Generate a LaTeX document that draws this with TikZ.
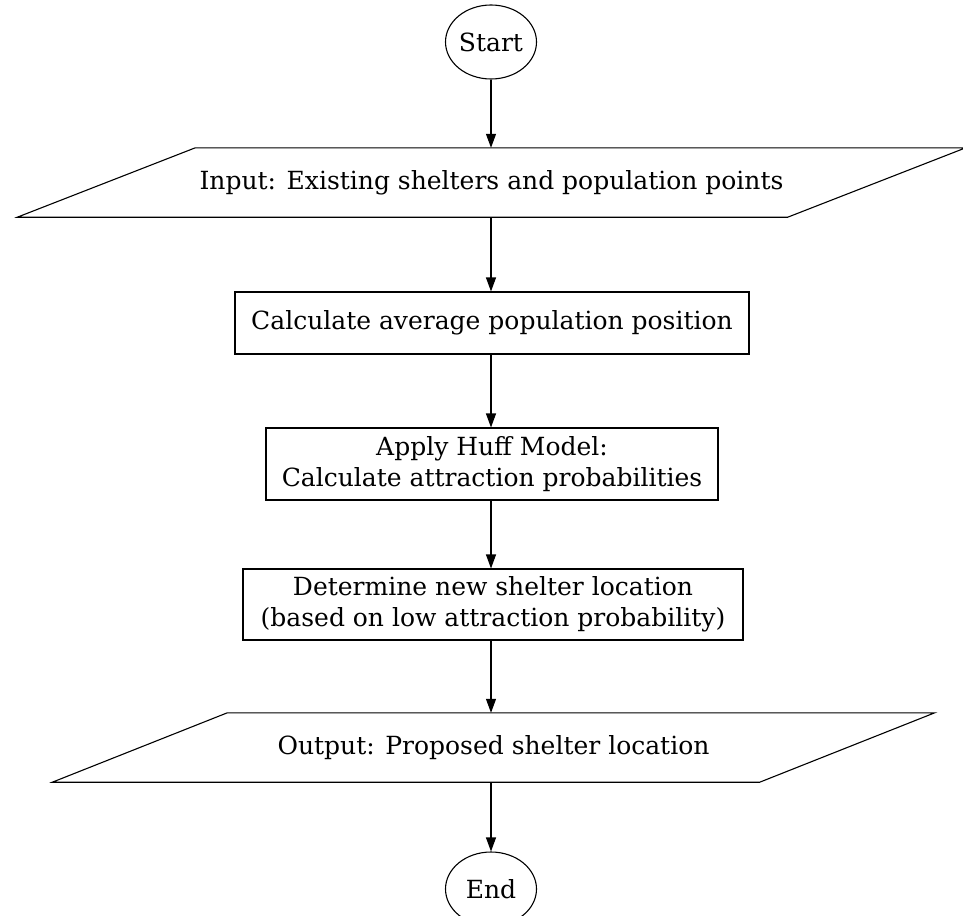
\documentclass[tikz,border=0pt]{standalone}
\usepackage{fontspec}
\setmainfont{DejaVu Serif}
\usetikzlibrary{arrows.meta,shapes.geometric}

\begin{document}
\begin{tikzpicture}[x=1pt,y=-1pt,
    every node/.append style={font=\fontsize{25}{31}\selectfont},
    term/.style={draw,ellipse,line width=1.1pt,minimum width=91pt,minimum height=74pt,inner sep=0pt},
    proc/.style={draw,rectangle,line width=1.1pt,align=center,inner sep=0pt},
    io/.style={rectangle,align=center,minimum height=69pt,inner sep=0pt},
    iolines/.style={line width=1.1pt,line join=miter},
    flow/.style={-{Triangle[length=14pt,width=10pt]},line width=1.1pt}]
  \useasboundingbox (0,0) rectangle (963,915);

  \draw (491,42) node[term] (start) {Start};
  \draw (491.5,182.5) node[io,minimum width=770pt] (input) {Input: Existing shelters and population points};
  \draw[iolines] ([xshift=89pt]input.north west) -- ([xshift=89pt]input.north east)
     -- ([xshift=-89pt]input.south east) -- ([xshift=-89pt]input.south west) -- cycle;
  \draw (492,323) node[proc,minimum width=514pt,minimum height=62pt] (avgpos) {Calculate average population position};
  \draw (492,464) node[proc,minimum width=452pt,minimum height=72pt] (huff) {Apply Huff Model:\\Calculate attraction probabilities};
  \draw (493,604.5) node[proc,minimum width=500pt,minimum height=71pt] (newloc) {Determine new shelter location\\(based on low attraction probability)};
  \draw (493.5,747.5) node[io,minimum width=707pt] (output) {Output: Proposed shelter location};
  \draw[iolines] ([xshift=87.5pt]output.north west) -- ([xshift=87.5pt]output.north east)
     -- ([xshift=-87.5pt]output.south east) -- ([xshift=-87.5pt]output.south west) -- cycle;
  \draw (491,889) node[term] (end) {End};

  \path[flow] (start) edge (input.north -| start);
  \path[flow] (input.south -| start) edge (avgpos.north -| start);
  \path[flow] (avgpos.south -| start) edge (huff.north -| start);
  \path[flow] (huff.south -| start) edge (newloc.north -| start);
  \path[flow] (newloc.south -| start) edge (output.north -| start);
  \path[flow] (output.south -| start) edge (end);
\end{tikzpicture}
\end{document}
